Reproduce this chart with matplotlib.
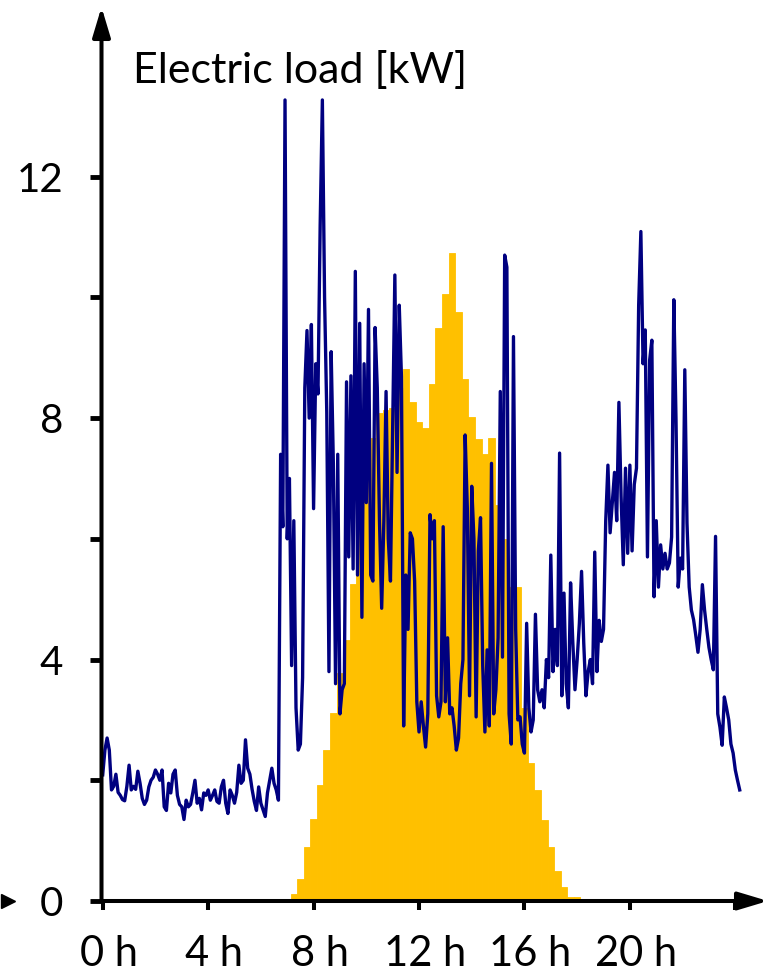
import numpy as np
import matplotlib
matplotlib.use("Agg")
import matplotlib.pyplot as plt
from matplotlib.transforms import ScaledTranslation

plt.rcParams['font.family'] = ['Lato', 'DejaVu Sans']

# electric load, 5-min steps starting at 0 h [kW]
load_kw = [
    2.09, 2.50, 2.70, 2.50, 1.84, 1.90, 2.10, 1.80, 1.75, 1.68, 1.66, 1.90,
    2.25, 1.84, 1.90, 1.85, 2.15, 1.95, 1.70, 1.60, 1.67, 1.89, 2.00, 2.05,
    2.17, 2.10, 2.00, 2.17, 1.56, 1.50, 1.95, 1.79, 2.10, 2.17, 1.75, 1.60,
    1.56, 1.35, 1.67, 1.56, 1.60, 1.79, 2.00, 1.62, 1.70, 1.51, 1.79, 1.75,
    1.84, 1.67, 1.75, 1.84, 1.65, 1.62, 1.89, 2.00, 1.62, 1.45, 1.84, 1.75,
    1.62, 1.80, 2.25, 1.95, 2.00, 2.67, 2.20, 2.10, 1.85, 1.65, 1.50, 1.89,
    1.62, 1.51, 1.40, 1.79, 2.00, 2.20, 1.95, 1.84, 1.67, 7.40, 6.20, 13.27,
    6.00, 7.00, 3.90, 6.30, 3.20, 2.50, 2.60, 3.70, 8.50, 9.45, 8.00, 9.55,
    6.50, 8.90, 8.40, 11.20, 13.27, 10.00, 8.10, 3.80, 9.10, 7.25, 3.60, 7.40,
    3.10, 3.50, 3.60, 8.60, 5.70, 8.70, 5.50, 10.43, 5.40, 9.57, 4.70, 8.90,
    6.60, 9.80, 5.40, 5.30, 9.50, 8.50, 6.30, 4.85, 6.30, 8.44, 6.00, 5.30,
    7.80, 10.37, 7.10, 9.87, 8.69, 2.90, 5.40, 4.50, 6.10, 6.00, 5.30, 3.30,
    2.80, 3.30, 2.90, 2.55, 3.10, 6.40, 6.00, 6.30, 3.40, 3.05, 3.30, 6.20,
    3.30, 4.36, 3.10, 3.20, 2.90, 2.50, 2.70, 3.60, 4.00, 7.72, 6.50, 3.40,
    6.87, 6.00, 3.05, 5.80, 6.35, 3.90, 2.80, 4.16, 2.90, 7.25, 3.10, 3.50,
    4.36, 8.44, 4.04, 10.70, 10.50, 3.10, 2.60, 9.35, 4.50, 3.00, 3.05, 2.60,
    2.45, 4.60, 3.20, 2.80, 3.00, 4.75, 3.50, 3.30, 3.50, 3.20, 4.00, 3.70,
    5.73, 3.80, 4.50, 3.90, 7.42, 3.40, 5.10, 3.60, 3.20, 5.27, 4.30, 3.50,
    4.00, 4.60, 5.46, 4.27, 3.40, 3.80, 4.00, 3.60, 5.78, 3.80, 4.65, 4.30,
    4.50, 6.30, 7.22, 6.10, 6.60, 7.10, 6.30, 8.26, 6.70, 5.57, 7.17, 5.76,
    7.22, 5.80, 6.90, 7.17, 9.87, 11.09, 8.90, 9.46, 5.70, 8.96, 9.29, 5.04,
    6.30, 5.20, 5.90, 5.50, 5.76, 5.50, 5.60, 6.03, 9.96, 7.97, 5.20, 5.68,
    5.50, 8.80, 6.26, 5.20, 4.82, 4.66, 4.40, 4.12, 4.50, 5.24, 4.82, 4.50,
    4.20, 4.00, 3.83, 6.04, 3.10, 2.88, 2.58, 3.38, 3.20, 3.00, 2.60, 2.45,
    2.17, 2.00, 1.84,
]
load_step_h = 5 / 60

# PV generation, 15-min blocks starting at 7:07 [kW]
pv_kw = [
    0.11, 0.37, 0.90, 1.36, 1.92, 2.50, 3.12, 3.78, 4.32, 5.25, 6.20, 7.00,
    7.67, 8.08, 8.13, 8.16, 8.50, 8.81, 8.27, 7.93, 7.83, 8.57, 9.49, 10.06,
    10.73, 9.76, 8.64, 8.01, 7.66, 7.41, 7.67, 6.56, 6.00, 5.20, 5.20, 3.19,
    2.28, 1.84, 1.35, 0.90, 0.50, 0.24, 0.06, 0.06,
]
pv_start_h = 7.125
pv_step_h = 0.25

x_ticks = [0, 4, 8, 12, 16, 20, 24]
x_labels = ['0 h', '4 h', '8 h', '12 h', '16 h', '20 h', '']
y_ticks = [0, 2, 4, 6, 8, 10, 12]
y_labels = ['0', '', '4', '', '8', '', '12']

t_load = np.arange(len(load_kw)) * load_step_h
t_pv = pv_start_h + np.arange(len(pv_kw)) * pv_step_h

fig = plt.figure(figsize=(7.72, 9.73), dpi=100)
ax = fig.add_axes([101.5 / 772, 72 / 973, (768 - 101.5) / 772, 894 / 973])

ax.bar(t_pv, pv_kw, width=pv_step_h, align='edge', color='#FFC000',
       edgecolor='#FFC000', linewidth=0.6, zorder=1)
ax.plot(t_load, load_kw, color='#000080', lw=2.4, zorder=2)

ax.set_xlim(-0.046, 25.24)
ax.set_ylim(0, 14.81)
for s in ax.spines.values():
    s.set_visible(False)

# axes drawn as arrows
arrow = dict(arrowstyle='-|>,head_length=18,head_width=5.4', mutation_scale=1,
             lw=2.9, color='black', shrinkA=0, shrinkB=0)
ax.annotate('', xy=(1, 0), xytext=(0, 0), xycoords='axes fraction', arrowprops=arrow)
ax.annotate('', xy=(0, 1), xytext=(0, 0), xycoords='axes fraction', arrowprops=arrow)
ax.plot([-3.6], [0], marker='>', color='black', ms=10, clip_on=False)

ax.set_xticks(x_ticks)
ax.set_xticklabels(x_labels)
ax.set_yticks(y_ticks)
ax.set_yticklabels(y_labels)
ax.tick_params(axis='x', direction='out', length=6.5, width=2.9, labelsize=30, pad=18)
ax.tick_params(axis='y', direction='out', length=8.6, width=3.5, labelsize=29, pad=19)
for lab in ax.get_xticklabels():
    lab.set_transform(lab.get_transform() + ScaledTranslation(6 / 100, 0, fig.dpi_scale_trans))

fig.text(133 / 772, (973 - 83) / 973, 'Electric load [kW]', fontsize=31,
         va='baseline', ha='left')

fig.savefig('out.png', dpi=100)
